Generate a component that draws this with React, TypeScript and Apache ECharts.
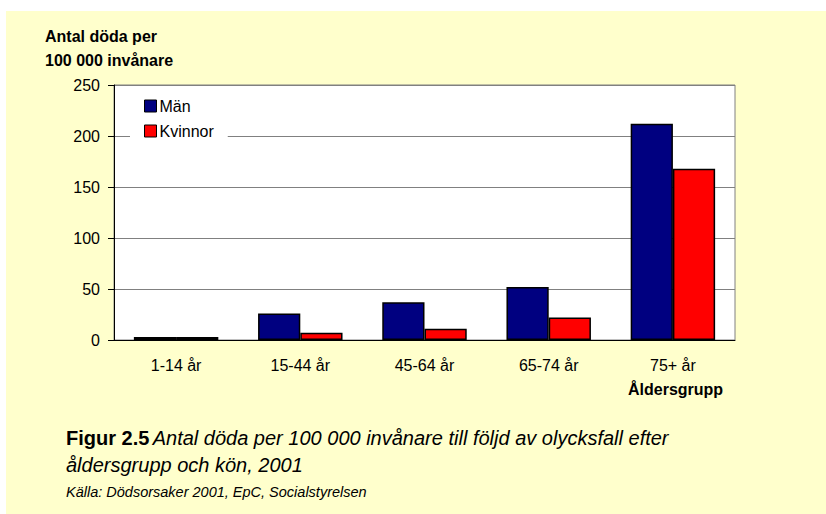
import React, { useEffect, useRef } from "react";
import * as echarts from "echarts";

const categories = ["1-14 år", "15-44 år", "45-64 år", "65-74 år", "75+ år"];
const man = [3, 26, 37, 52, 212];
const kvinnor = [3, 7, 11, 22, 168];
const seriesNames = ["Män", "Kvinnor"];
const yTitle = ["Antal döda per", "100 000 invånare"];
const xTitle = "Åldersgrupp";
const figLabel = "Figur 2.5";
const figText1 = "Antal döda per 100 000 invånare till följd av olycksfall efter";
const figText2 = "åldersgrupp och kön, 2001";
const source = "Källa: Dödsorsaker 2001, EpC, Socialstyrelsen";

const FONT = "Arial, 'Liberation Sans', sans-serif";

export default function App() {
  const ref = useRef<HTMLDivElement>(null);
  useEffect(() => {
    document.body.style.margin = "0";
    const chart = echarts.init(ref.current!, null, { renderer: "svg" });
    chart.setOption({
      animation: false,
      backgroundColor: "#FFFFCC",
      textStyle: { fontFamily: FONT },
      grid: {
        left: 114,
        top: 85,
        width: 621,
        height: 255,
        show: true,
        backgroundColor: "#ffffff",
        borderColor: "#808080",
        borderWidth: 1,
        containLabel: false,
      },
      legend: {
        orient: "vertical",
        left: 130,
        top: 93,
        padding: [5, 14, 5, 14],
        backgroundColor: "#ffffff",
        itemWidth: 12,
        itemHeight: 12,
        itemGap: 9,
        icon: "rect",
        itemStyle: { borderColor: "#000", borderWidth: 1 },
        textStyle: { fontSize: 16, color: "#000", fontFamily: FONT, padding: [0, 0, 0, -2] },
        data: seriesNames,
      },
      xAxis: {
        type: "category",
        data: categories,
        axisLine: { lineStyle: { color: "#000", width: 1 } },
        axisTick: { show: false },
        axisLabel: { fontSize: 16, color: "#000", margin: 17, fontFamily: FONT },
      },
      yAxis: {
        type: "value",
        min: 0,
        max: 250,
        interval: 50,
        axisLine: { show: true, lineStyle: { color: "#000", width: 1 } },
        axisTick: { show: true, inside: false, length: 6, lineStyle: { color: "#000" } },
        axisLabel: { fontSize: 16, color: "#000", margin: 14, fontFamily: FONT },
        splitLine: { show: true, lineStyle: { color: "#808080", width: 1 } },
      },
      series: [
        {
          name: seriesNames[0],
          type: "bar",
          data: man,
          barGap: "0%",
          barCategoryGap: "32%",
          itemStyle: { color: "#000080", borderColor: "#000", borderWidth: 1.5 },
        },
        {
          name: seriesNames[1],
          type: "bar",
          data: kvinnor,
          barGap: "0%",
          barCategoryGap: "32%",
          itemStyle: { color: "#FF0000", borderColor: "#000", borderWidth: 1.5 },
        },
      ],
      graphic: [
        { type: "rect", shape: { x: 0, y: 0, width: 826, height: 11 }, style: { fill: "#fff" }, silent: true },
        { type: "rect", shape: { x: 0, y: 0, width: 6, height: 514 }, style: { fill: "#fff" }, silent: true },
        {
          type: "text",
          left: 45,
          top: 24,
          style: {
            text: yTitle.join("\n"),
            font: `bold 16px ${FONT}`,
            fill: "#000",
            lineHeight: 24,
          },
        },
        {
          type: "text",
          left: 628,
          top: 381,
          style: { text: xTitle, font: `bold 16px ${FONT}`, fill: "#000" },
        },
        {
          type: "text",
          left: 66,
          top: 428,
          style: {
            text: `{b|${figLabel}} {i|${figText1}}\n{i|${figText2}}`,
            fill: "#000",
            rich: {
              b: { font: `bold 20px ${FONT}`, fill: "#000", lineHeight: 27 },
              i: { font: `italic 20px ${FONT}`, fill: "#000", lineHeight: 27 },
            },
          },
        },
        {
          type: "text",
          left: 66,
          top: 484,
          style: { text: source, font: `italic 14.5px ${FONT}`, fill: "#000" },
        },
      ],
    });
    return () => chart.dispose();
  }, []);
  return (
    <div
      ref={ref}
      style={{ position: "fixed", left: 0, top: 0, width: 826, height: 514 }}
    />
  );
}
